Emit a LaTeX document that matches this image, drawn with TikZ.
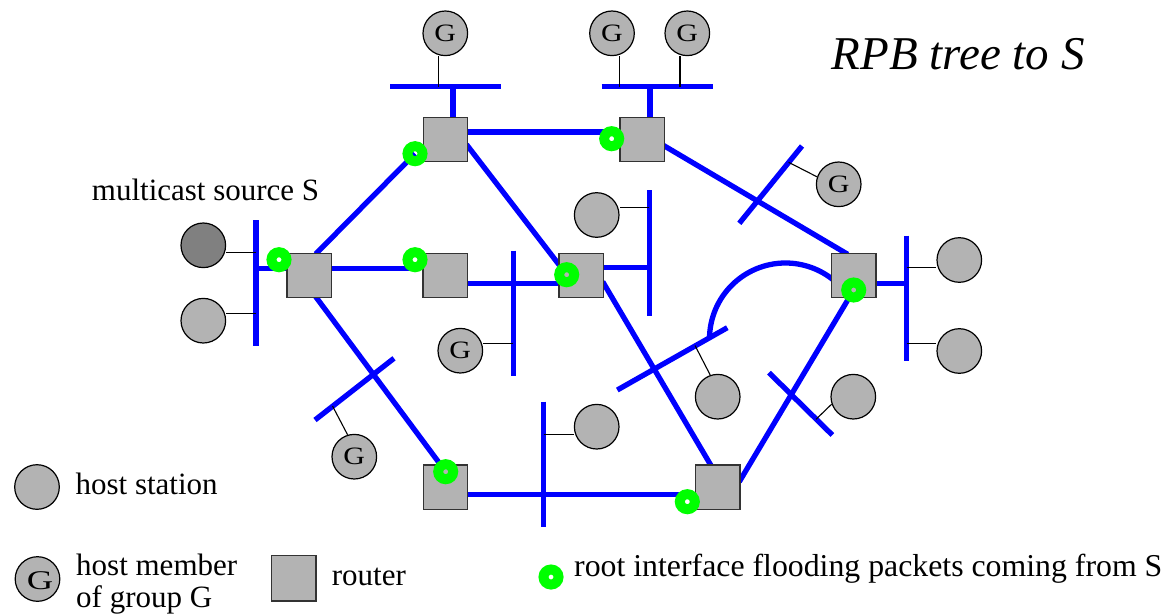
\documentclass[tikz,border=0pt]{standalone}
\usepackage{fontspec}
\setmainfont{Liberation Serif}
\definecolor{lanblue}{RGB}{0,0,255}
\definecolor{rootgreen}{RGB}{0,255,0}
\definecolor{hostgray}{RGB}{179,179,179}
\definecolor{srcgray}{RGB}{128,128,128}
\pgfdeclarelayer{wires}
\pgfdeclarelayer{top}
\pgfsetlayers{wires,main,top}
% group letter, set a little wide
\newcommand{\memberG}{\scalebox{1.2}[1]{G}}

\begin{document}
\begin{tikzpicture}[x=1pt,y=-1pt,
  link/.style={draw=lanblue, line width=5.3},
  tap/.style={draw=black, line width=1.1},
  host/.style={circle, draw=black, line width=1.2, fill=hostgray,
    minimum size=44.6, inner sep=0, font=\fontsize{25}{25}\selectfont},
  router/.style={rectangle, draw=black!80, line width=1.4, fill=hostgray,
    minimum size=44.4, inner sep=0},
  rootif/.style={circle, draw=rootgreen, line width=10, minimum size=15, inner sep=0},
  lbl/.style={anchor=base west, inner sep=0, font=\fontsize{31}{34}\selectfont}]
\useasboundingbox (0,0) rectangle (1169,615);

% ---------------- routers
\node[router] (R1) at (445.5,139.5) {};
\node[router] (R2) at (642,139.5) {};
\node[router] (R3) at (309.3,275.5) {};
\node[router] (R4) at (445.3,275.5) {};
\node[router] (R5) at (581.3,275.5) {};
\node[router] (R6) at (853.7,275.5) {};
\node[router] (R7) at (445.5,487) {};
\node[router] (R8) at (717.8,487) {};

% ---------------- hosts
\node[host] (G1) at (445.3,33.3) {\memberG};
\node[host] (G2) at (612,33.3) {\memberG};
\node[host] (G3) at (687.3,33.3) {\memberG};
\node[host, fill=srcgray] (S) at (203.3,245.3) {};
\node[host] (H2) at (203.3,320.7) {};
\node[host] (G4) at (460.3,350.7) {\memberG};
\node[host] (H5) at (596.7,215) {};
\node[host] (G6) at (838.7,184.3) {\memberG};
\node[host] (H7a) at (959.3,260) {};
\node[host] (H7b) at (959.3,351) {};
\node[host] (G8) at (354.3,456.7) {\memberG};
\node[host] (H9) at (717.7,396.7) {};
\node[host] (H10) at (853.3,396.7) {};
\node[host] (H11) at (596.7,426.7) {};

% ---------------- root interfaces
\begin{pgfonlayer}{top}
\node[rootif] (d1) at (415,153.7) {};
\node[rootif] (d2) at (611.7,138.7) {};
\node[rootif] (d3) at (279,259.7) {};
\node[rootif] (d4) at (415,259.7) {};
\node[rootif] (d5) at (566.7,274.7) {};
\node[rootif] (d6) at (853.7,290) {};
\node[rootif] (d7) at (445.7,471.7) {};
\node[rootif] (d8) at (687.3,501.7) {};
\end{pgfonlayer}

% ---------------- ports, LAN ends and taps
\coordinate (p1e) at (466,132);    \coordinate (p2w) at (605,132);
\coordinate (p3n) at (315.7,254);
\coordinate (p1s) at (466.5,144.5);
\coordinate (p2s) at (663.3,145.3);  \coordinate (p6n) at (847.7,254.3);
\coordinate (p3e) at (330,268.3);  \coordinate (p4w) at (410,268.3);
\coordinate (p4e) at (466,283.3);  \coordinate (p5w) at (562,283.3);
\coordinate (p5e) at (603,267.7);
\coordinate (p5s) at (602.7,281.7);  \coordinate (p8n) at (711.7,466.7);
\coordinate (p3s) at (315.7,296.7);
\coordinate (p7e) at (466,494.7);  \coordinate (p8w) at (690,494.7);
\coordinate (p8e) at (739.3,481.7);
\coordinate (p6e) at (876,283.3);
\coordinate (p1n) at (453,117);    \coordinate (p2n) at (650,117);

\coordinate (L1a) at (390,86.7);    \coordinate (L1b) at (500.7,86.7);
\coordinate (L2a) at (601.7,86.7);  \coordinate (L2b) at (712.7,86.7);
\coordinate (L3a) at (256,220);     \coordinate (L3b) at (256,345.7);
\coordinate (L4a) at (513.3,250.7); \coordinate (L4b) at (513.3,376);
\coordinate (L5a) at (649.3,190);   \coordinate (L5b) at (649.3,315.7);
\coordinate (L6a) at (739.3,223.3); \coordinate (L6b) at (802,146);
\coordinate (L7a) at (906.7,235.7); \coordinate (L7b) at (906.7,360.7);
\coordinate (L8a) at (315,420);     \coordinate (L8b) at (394,358.3);
\coordinate (L9a) at (617.3,390);   \coordinate (L9b) at (727.3,327.7);
\coordinate (L10a) at (769,372.7);  \coordinate (L10b) at (832.3,435);
\coordinate (L11a) at (543.7,401.7); \coordinate (L11b) at (543.7,527.3);
\coordinate (L9c) at (709.5,339);

\coordinate (t1) at (438.3,86.7);
\coordinate (t2) at (619.3,86.7);
\coordinate (t3) at (680,86.7);
\coordinate (tS) at (256,252.3);
\coordinate (tH2) at (256,313.3);
\coordinate (t4) at (513.3,343.3);
\coordinate (t5) at (649.3,207.3);
\coordinate (t6) at (788.6,162.3);
\coordinate (t7a) at (906.7,267.7);
\coordinate (t7b) at (906.7,343.3);
\coordinate (t8) at (332.5,406);
\coordinate (t9) at (695,345.5);
\coordinate (t10) at (816,419.3);
\coordinate (t11) at (543.7,434.3);

\begin{pgfonlayer}{wires}
  % LAN segments
  \draw[link] (L1a) -- (L1b);
  \draw[link] (L2a) -- (L2b);
  \draw[link] (L3a) -- (L3b);
  \draw[link] (L4a) -- (L4b);
  \draw[link] (L5a) -- (L5b);
  \draw[link] (L6a) -- (L6b);
  \draw[link] (L7a) -- (L7b);
  \draw[link] (L8a) -- (L8b);
  \draw[link] (L9a) -- (L9b);
  \draw[link] (L10a) -- (L10b);
  \draw[link] (L11a) -- (L11b);
  % router links
  \draw[link] (p1n) -- (p1n |- L1a);
  \draw[link] (p2n) -- (p2n |- L2a);
  \draw[link] (p1e) -- (p2w);
  \draw[link] (p3n) -- (d1.center);
  \draw[link] (p1s) -- (d5.center);
  \draw[link] (p2s) -- (p6n);
  \draw[link] (L3a |- p3e) -- (R3.west |- p3e);
  \draw[link] (p3e) -- (p4w);
  \draw[link] (p4e) -- (p5w);
  \draw[link] (p5e) -- (L5a |- p5e);
  \draw[link] (p5s) -- (p8n);
  \draw[link] (p3s) -- (d7.center);
  \draw[link] (p7e) -- (p8w);
  \draw[link] (p8e) -- (d6.center);
  \draw[link] (p6e) -- (L7a |- p6e);
  \draw[link] (L9c) arc[start angle=180, end angle=309, radius=76];
  % host taps
  \draw[tap] (t1) -- (t1 |- G1.south);
  \draw[tap] (t2) -- (t2 |- G2.south);
  \draw[tap] (t3) -- (t3 |- G3.south);
  \draw[tap] (tS) -- (tS -| S.east);
  \draw[tap] (tH2) -- (tH2 -| H2.east);
  \draw[tap] (t4) -- (t4 -| G4.east);
  \draw[tap] (t5) -- (t5 -| H5.east);
  \draw[tap] (t6) -- (G6.161);
  \draw[tap] (t7a) -- (t7a -| H7a.west);
  \draw[tap] (t7b) -- (t7b -| H7b.west);
  \draw[tap] (t8) -- (G8.107);
  \draw[tap] (t9) -- (H9.109);
  \draw[tap] (t10) -- (H10.199);
  \draw[tap] (t11) -- (t11 -| H11.west);
\end{pgfonlayer}

% ---------------- texts
\node[lbl, font=\fontsize{47}{50}\selectfont\itshape] (title) at (831.7,70) {RPB tree to S};
\node[lbl] (srclbl) at (91.7,200) {multicast source S};

% ---------------- legend
\node[host] (Lh) at (37,487) {};
\node[lbl] (Lht) at (75.4,494) {host station};
\node[host] (Lg) at (37.5,579) {};
\node[inner sep=0, font=\fontsize{27}{27}\selectfont] (LgG) at (40,581) {\scalebox{1.35}[1]{G}};
\node[lbl] (Lgt1) at (76,575) {host member};
\node[lbl] (Lgt2) at (76,607) {of group G};
\node[router, minimum width=44.6, minimum height=45.2] (Lr) at (293.7,578.3) {};
\node[lbl] (Lrt) at (331.7,585) {router};
\node[rootif] (Ld) at (551,577) {};
\node[lbl, font=\fontsize{31.8}{34}\selectfont] (Ldt) at (574,576) {root interface flooding packets coming from S};
\end{tikzpicture}
\end{document}
